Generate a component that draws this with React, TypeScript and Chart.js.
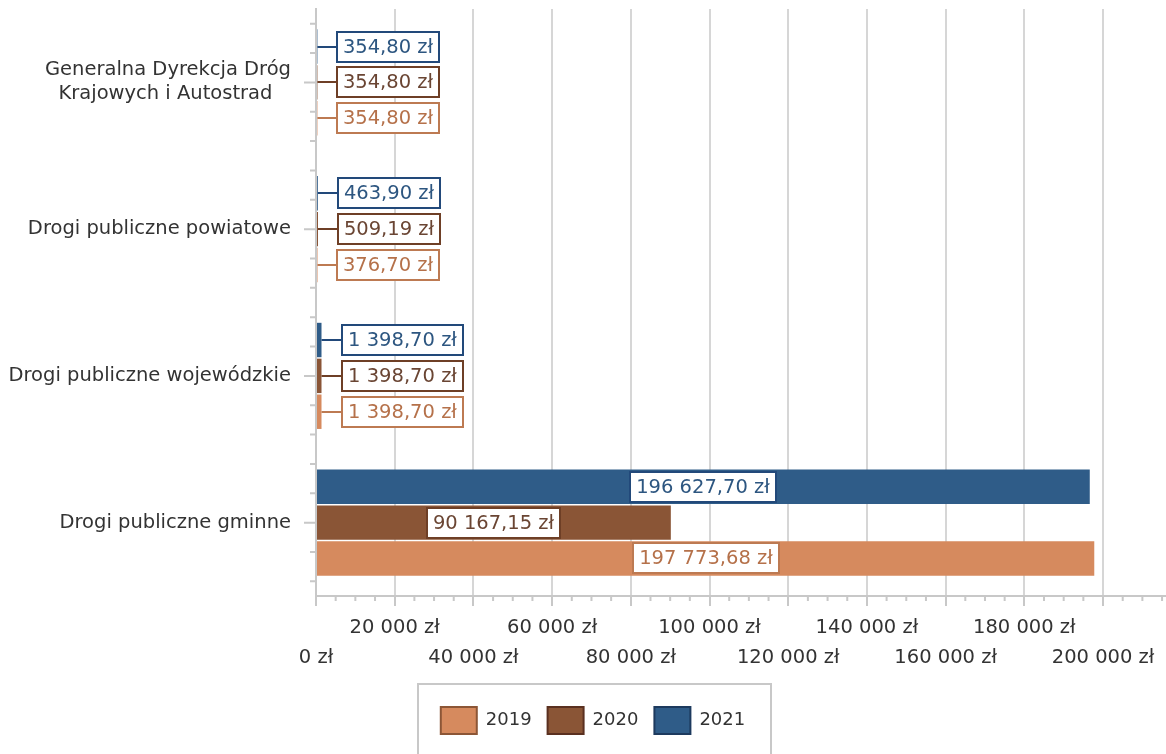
import { useEffect, useRef } from 'react'
import { Chart, registerables } from 'chart.js'

Chart.register(...registerables)

const FONT = '"DejaVu Sans", Verdana, sans-serif'

// categories top -> bottom (second line padded so the two-line label sits centred)
const categories = [
  ['Generalna Dyrekcja Dróg', 'Krajowych i Autostrad   '],
  'Drogi publiczne powiatowe',
  'Drogi publiczne wojewódzkie',
  'Drogi publiczne gminne',
]

const values2019 = [354.8, 376.7, 1398.7, 197773.68]
const values2020 = [354.8, 509.19, 1398.7, 90167.15]
const values2021 = [354.8, 463.9, 1398.7, 196627.7]

const xTickValues = [0, 20000, 40000, 60000, 80000, 100000, 120000, 140000, 160000, 180000, 200000]
const xTickLabels = [
  '0 zł', '20 000 zł', '40 000 zł', '60 000 zł', '80 000 zł', '100 000 zł',
  '120 000 zł', '140 000 zł', '160 000 zł', '180 000 zł', '200 000 zł',
]

const fmtValue = (v: number) => {
  const [int, dec] = v.toFixed(2).split('.')
  return int.replace(/\B(?=(\d{3})+(?!\d))/g, ' ') + ',' + dec + ' zł'
}

// boxed value labels, y-axis minor ticks, x-axis minor ticks, legend frame
const decorPlugin = {
  id: 'decor',
  afterLayout(chart: any) {
    const lg = chart.legend
    if (lg) {
      lg.left += 10
      lg.right += 10
    }
  },
  afterDatasetsDraw(chart: any) {
    const ctx = chart.ctx
    ctx.save()
    ctx.font = '19.5px ' + FONT
    ctx.textAlign = 'center'
    ctx.textBaseline = 'middle'
    chart.data.datasets.forEach((ds: any, di: number) => {
      const meta = chart.getDatasetMeta(di)
      meta.data.forEach((bar: any, i: number) => {
        const text = fmtValue(ds.data[i])
        const w = Math.round(ctx.measureText(text).width + 12)
        const h = 30
        const len = bar.x - bar.base
        let left: number
        const cy = Math.round(bar.y)
        if (len > w + 20) {
          left = Math.round((bar.x + bar.base) / 2 - w / 2)
        } else {
          left = Math.round(bar.x + 20)
          ctx.strokeStyle = ds.labelBorder
          ctx.lineWidth = 2
          ctx.beginPath()
          ctx.moveTo(bar.x, cy)
          ctx.lineTo(left, cy)
          ctx.stroke()
        }
        const top = cy - h / 2
        ctx.fillStyle = '#ffffff'
        ctx.fillRect(left, top, w, h)
        ctx.strokeStyle = ds.labelBorder
        ctx.lineWidth = 2
        ctx.strokeRect(left, top, w, h)
        ctx.fillStyle = ds.labelColor
        ctx.fillText(text, left + w / 2, cy + 1)
      })
    })
    ctx.restore()
  },
  afterDraw(chart: any) {
    const ctx = chart.ctx
    const x = chart.scales.x
    const y = chart.scales.y
    const area = chart.chartArea
    ctx.save()
    ctx.strokeStyle = '#c8c8c8'
    ctx.lineWidth = 2
    // y axis ticks
    const step = y.getPixelForValue(1) - y.getPixelForValue(0)
    for (let i = 0; i < categories.length; i++) {
      const c = y.getPixelForValue(i)
      ctx.beginPath()
      ctx.moveTo(area.left - 12, c)
      ctx.lineTo(area.left, c)
      ;[-0.4, -0.2, 0.2, 0.4].forEach((f) => {
        ctx.moveTo(area.left - 6, c + f * step)
        ctx.lineTo(area.left, c + f * step)
      })
      ctx.stroke()
    }
    // x axis minor ticks
    ctx.beginPath()
    for (let v = 5000; v <= x.max; v += 5000) {
      if (v % 20000 === 0) continue
      const px = x.getPixelForValue(v)
      ctx.moveTo(px, area.bottom)
      ctx.lineTo(px, area.bottom + 5)
    }
    ctx.stroke()
    // legend frame
    const hb = chart.legend?.legendHitBoxes
    if (hb && hb.length) {
      const l = Math.round(hb[0].left - 23)
      const last = hb[hb.length - 1]
      const r = Math.round(last.left + last.width + 26)
      const t = Math.round(hb[0].top - 23)
      ctx.strokeRect(l, t, r - l, chart.height - t + 10)
    }
    ctx.restore()
  },
}

export default function App() {
  const canvasRef = useRef<HTMLCanvasElement>(null)

  useEffect(() => {
    if (!canvasRef.current) return
    const legendBorders = ['#1d3a5e', '#5a3020', '#8c5636']
    const chart = new Chart(canvasRef.current, {
      type: 'bar',
      data: {
        labels: categories,
        datasets: [
          {
            label: '2021',
            data: values2021,
            backgroundColor: '#2f5c88',
            labelColor: '#2d5680',
            labelBorder: '#22497a',
          } as any,
          {
            label: '2020',
            data: values2020,
            backgroundColor: '#8a5536',
            labelColor: '#6a4533',
            labelBorder: '#6e3f26',
          } as any,
          {
            label: '2019',
            data: values2019,
            backgroundColor: '#d68a5e',
            labelColor: '#b5714a',
            labelBorder: '#bd7a52',
          } as any,
        ],
      },
      options: {
        indexAxis: 'y',
        responsive: true,
        maintainAspectRatio: false,
        animation: false,
        categoryPercentage: 0.733,
        barPercentage: 0.96,
        layout: { padding: { top: 9, right: 0, bottom: 10, left: 0 } },
        scales: {
          x: {
            min: 0,
            max: 216000,
            afterBuildTicks: (scale: any) => {
              scale.ticks = xTickValues.map((v) => ({ value: v }))
            },
            afterFit: (scale: any) => {
              scale.height = 95
              scale.paddingLeft = 0
              scale.paddingRight = 0
            },
            ticks: {
              autoSkip: false,
              maxRotation: 0,
              padding: 7,
              color: '#333333',
              font: { family: FONT, size: 19.5, lineHeight: 30 / 19.5 },
              callback: (_v: any, i: number) => {
                const t = xTickLabels[i] ?? ''
                return i % 2 === 0 ? ['', t] : [t, '']
              },
            },
            grid: { color: '#d6d6d6', lineWidth: 2, tickLength: 10, tickColor: '#c8c8c8' },
            border: { color: '#c8c8c8', width: 2 },
          },
          y: {
            afterFit: (scale: any) => {
              scale.width = 316
              scale.paddingTop = 0
              scale.paddingBottom = 0
            },
            ticks: {
              padding: 25,
              color: '#333333',
              font: { family: FONT, size: 19.5, lineHeight: 24 / 19.5 },
            },
            grid: { display: true, drawOnChartArea: false, drawTicks: false },
            border: { color: '#c8c8c8', width: 2 },
          },
        },
        plugins: {
          tooltip: { enabled: false },
          legend: {
            position: 'bottom',
            reverse: true,
            labels: {
              boxWidth: 36,
              boxHeight: 27,
              padding: 16,
              color: '#333333',
              font: { family: FONT, size: 18 },
              generateLabels: (c: any) => {
                const items = Chart.defaults.plugins.legend.labels.generateLabels(c)
                return items.map((it: any) => ({
                  ...it,
                  strokeStyle: legendBorders[it.datasetIndex],
                  lineWidth: 2,
                }))
              },
            },
          },
        },
      },
      plugins: [decorPlugin],
    })
    return () => chart.destroy()
  }, [])

  return (
    <div style={{ position: 'absolute', left: 0, top: 0, width: 1166, height: 754, background: '#fff' }}>
      <canvas ref={canvasRef} />
    </div>
  )
}
